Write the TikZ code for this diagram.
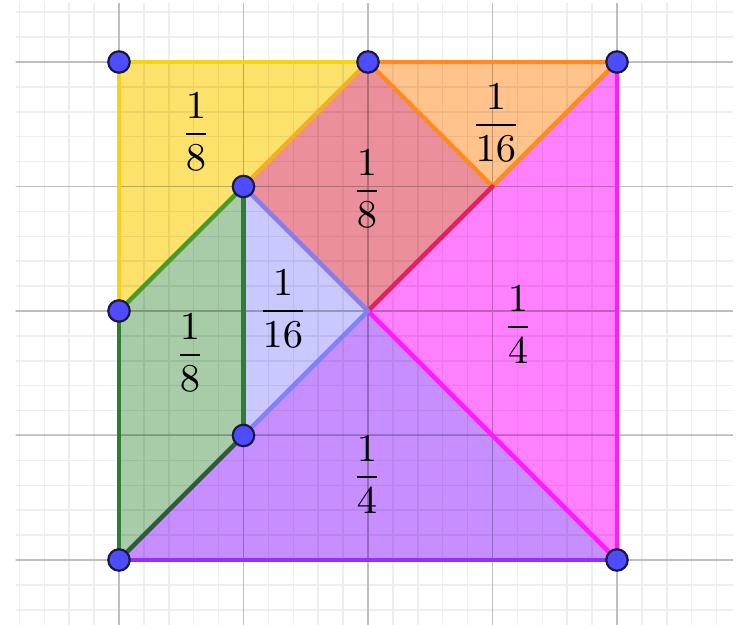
\documentclass[tikz,border=0pt]{standalone}
\definecolor{yfill}{HTML}{FCE16A}
\definecolor{rfill}{HTML}{EC8F9C}
\definecolor{ofill}{HTML}{FFC38B}
\definecolor{mfill}{HTML}{FF80FF}
\definecolor{pfill}{HTML}{C68EFF}
\definecolor{bfill}{HTML}{C9C9FF}
\definecolor{gfill}{HTML}{A8CBA8}
\definecolor{yedge}{HTML}{F7D21A}
\definecolor{yoedge}{HTML}{F4AE2A}
\definecolor{oedge}{HTML}{FF8A1E}
\definecolor{redge}{HTML}{E51E5E}
\definecolor{medge}{HTML}{FF1AFF}
\definecolor{pedge}{HTML}{9430FF}
\definecolor{bedge}{HTML}{8080FF}
\definecolor{bpedge}{HTML}{8C7CE6}
\definecolor{gedge}{HTML}{2E7D32}
\definecolor{lgedge}{HTML}{4A9A2A}
\definecolor{dgedge}{HTML}{2F5A3C}
\definecolor{ptfill}{HTML}{4D4DFF}
\definecolor{ptdraw}{HTML}{1A1A40}
\begin{document}
\begin{tikzpicture}[x=1cm,y=1cm,
  edge/.style={line width=1pt, line cap=round},
  lab/.style={font=\fontsize{9.2}{11}\selectfont, inner sep=0pt, text=black},
  pt/.style={circle, inner sep=0pt, minimum size=4.9pt, fill=ptfill, draw=ptdraw, line width=0.5pt}]
\useasboundingbox (-0.956,-0.522) rectangle (4.972,4.498);
\fill[white] (-0.956,-0.522) rectangle (4.972,4.498);
% coordinates
\coordinate (A) at (0,4);
\coordinate (B) at (2,4);
\coordinate (C) at (4,4);
\coordinate (D) at (1,3);
\coordinate (E) at (3,3);
\coordinate (F) at (0,2);
\coordinate (O) at (2,2);
\coordinate (G) at (1,1);
\coordinate (H) at (0,0);
\coordinate (K) at (4,0);
% fills
\fill[yfill] (A)--(B)--(F)--cycle;
\fill[rfill] (B)--(E)--(O)--(D)--cycle;
\fill[ofill] (B)--(C)--(E)--cycle;
\fill[mfill] (C)--(K)--(O)--cycle;
\fill[pfill] (H)--(K)--(O)--cycle;
\fill[bfill] (D)--(O)--(G)--cycle;
\fill[gfill] (F)--(D)--(G)--(H)--cycle;
% grid
\begin{scope}
\clip (-0.83,-0.53) rectangle (4.93,4.467);
\draw[black, opacity=0.065, line width=0.35pt, step=0.2] (-1.2,-1.2) grid (5.2,5.2);
\draw[black, opacity=0.2, line width=0.45pt, step=1] (-1,-1) grid (5,5);
\end{scope}
% edges
\draw[edge, yedge] (F)--(A)--(B);
\draw[edge, yoedge] (B)--(D);
\draw[edge, lgedge] (D)--(F);
\draw[edge, oedge] (B)--(C)--(E)--cycle;
\draw[edge, redge] (E)--(O);
\draw[edge, medge] (C)--(K)--(O);
\draw[edge, pedge] (H)--(K);
\draw[edge, bedge] (G)--(O);
\draw[edge, bpedge] (D)--(O);
\draw[edge, gedge] (F)--(H);
\draw[edge, gedge] (D)--(G);
\draw[edge, dgedge] (H)--(G);
% labels
\node[lab] (l1) at (0.618,3.44) {$\displaystyle\frac{1}{8}$};
\node[lab] (l2) at (3.028,3.51) {$\displaystyle\frac{1}{16}$};
\node[lab] (l3) at (1.992,2.98) {$\displaystyle\frac{1}{8}$};
\node[lab] (l4) at (1.317,2.02) {$\displaystyle\frac{1}{16}$};
\node[lab] (l5) at (0.570,1.665) {$\displaystyle\frac{1}{8}$};
\node[lab] (l6) at (3.205,1.89) {$\displaystyle\frac{1}{4}$};
\node[lab] (l7) at (1.992,0.685) {$\displaystyle\frac{1}{4}$};
% points
\node[pt] (pA) at (A) {};
\node[pt] (pB) at (B) {};
\node[pt] (pC) at (C) {};
\node[pt] (pD) at (D) {};
\node[pt] (pF) at (F) {};
\node[pt] (pG) at (G) {};
\node[pt] (pH) at (H) {};
\node[pt] (pK) at (K) {};
\end{tikzpicture}
\end{document}
